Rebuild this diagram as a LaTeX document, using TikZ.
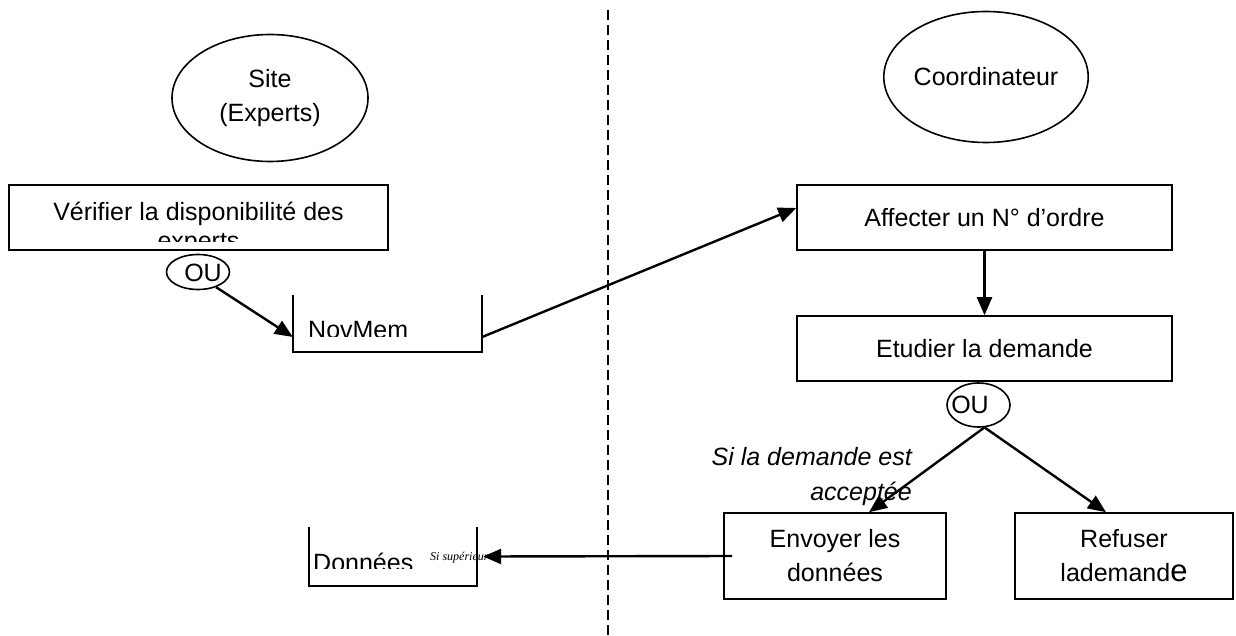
\documentclass[tikz,border=0pt]{standalone}
\usepackage{fontspec}
\setmainfont{Liberation Sans}
\newfontfamily\serifit{Liberation Serif}
\usetikzlibrary{shapes.geometric,arrows.meta}
\begin{document}
\begin{tikzpicture}[x=1pt,y=-1pt,
  every node/.style={font=\fontsize{25}{34}\selectfont, inner sep=0pt},
  box/.style={draw, line width=1.6pt, rectangle, align=center},
  oval/.style={draw, line width=1.6pt, ellipse, align=center},
  store/.style={rectangle},
  wall/.style={line width=1.6pt},
  flow/.style={line width=2.4pt, -{Triangle[length=18pt,width=15pt]}},
  cond/.style={font=\fontsize{25}{35}\selectfont\itshape, align=right},
  sep/.style={line width=1.8pt, dash pattern=on 10pt off 5pt}
]
\useasboundingbox (0,0) rectangle (1236,636);

% separator
\coordinate (septop) at (608,10);
\coordinate (sepbot) at (608,636);
\draw[sep] (septop) -- (sepbot);

% actors
\node[oval, minimum width=196pt, minimum height=127pt] (site) at (270,98) {Site\\(Experts)};
\node[oval, minimum width=185pt, minimum height=131pt] (coord) at (986,77) {Coordinateur};

% Verifier box
\node[box, minimum width=379pt, minimum height=65pt] (verif) at (198.5,217.5) {};
\begin{scope}
  \clip (verif.north west) rectangle ([yshift=9pt]verif.south east);
  \node[align=center, font=\fontsize{25}{29}\selectfont, anchor=north] (veriftxt) at (198.5,202) {Vérifier la disponibilité des\\experts};
\end{scope}

% OU 1
\node[oval, minimum width=63pt, minimum height=35pt] (ou1) at (198,272) {};
\node (ou1txt) at (203,273) {OU};

% NovMem store
\node[store, minimum width=189pt, minimum height=57pt] (novmem) at (387.5,323.5) {};
\draw[wall] (novmem.north west) -- (novmem.south west) -- (novmem.south east) -- (novmem.north east);
\begin{scope}
  \clip (novmem.north west) rectangle ([yshift=16pt]novmem.south east);
  \node[anchor=base west] (novtxt) at (308,338) {NovMem};
\end{scope}

% Coordinator side
\node[box, minimum width=375pt, minimum height=65pt] (affect) at (984.5,217.5) {Affecter un N° d’ordre};
\node[box, minimum width=375pt, minimum height=65pt] (etud) at (984.5,348.5) {Etudier la demande};
\node[oval, minimum width=63pt, minimum height=44pt] (ou2) at (978.5,405) {};
\node (ou2txt) at (970,405) {OU};

\node[box, minimum width=222pt, minimum height=86pt] (envoy) at (835,556) {Envoyer les\\données};
\node[box, minimum width=218pt, minimum height=86pt] (refus) at (1124,556) {Refuser\\lademand{\fontsize{31}{34}\selectfont e}};

\node[cond, anchor=east] (condtxt) at (912,477) {Si la demande est\\acceptée};

% Donnees store
\node[store, minimum width=168pt, minimum height=59pt] (donnees) at (393,556.5) {};
\draw[wall] (donnees.north west) -- (donnees.south west) -- (donnees.south east) -- (donnees.north east);
\begin{scope}
  \clip (donnees.north west) rectangle ([yshift=18pt]donnees.south east);
  \node[anchor=base west] (dontxt) at (313,571) {Données};
\end{scope}
\node[anchor=base west, font=\fontsize{12}{14}\selectfont\serifit\itshape] (sisup) at (430,560) {Si supérieur};

% connectors
\draw[flow] (ou1.-40) -- ([yshift=-13.5pt]novmem.west);
\draw[flow] ([yshift=-13.5pt]novmem.east) -- ([yshift=9.5pt]affect.west);
\draw[flow] (affect.south) -- (etud.north);
\draw[flow] (ou2.-75) -- ([xshift=34pt]envoy.north);
\draw[flow] (ou2.-75) -- ([xshift=-18pt]refus.north);
\draw[flow] ([xshift=9pt]envoy.west) -- ([xshift=6pt]donnees.east);
\end{tikzpicture}
\end{document}
